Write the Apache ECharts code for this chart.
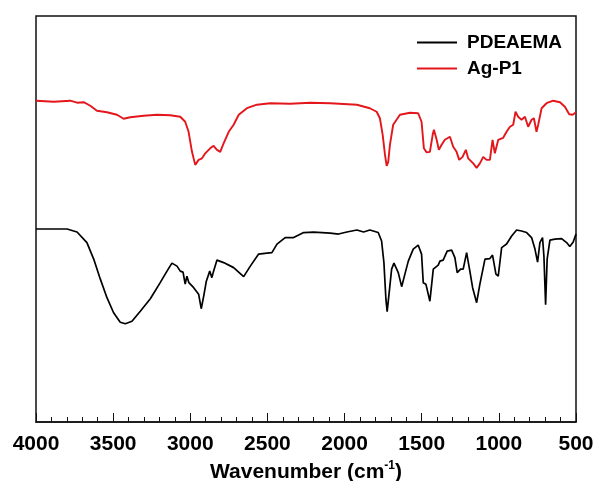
<!DOCTYPE html>
<html>
<head>
<meta charset="utf-8">
<title>FTIR spectra</title>
<script src="https://cdn.jsdelivr.net/npm/echarts@6/dist/echarts.min.js"></script>
<style>
  html, body { margin: 0; padding: 0; background: #ffffff; }
  #chart { width: 597px; height: 481px; }
</style>
</head>
<body>
<div id="chart"></div>
<script>
// Series names
var seriesNames = ['PDEAEMA', 'Ag-P1'];

// Wavenumber axis ticks (cm-1), drawn high to low
var xTicks = [4000, 3500, 3000, 2500, 2000, 1500, 1000, 500];

// PDEAEMA spectrum: wavenumber (cm-1) and transmittance (a.u., offset)
var pdeaemaWn = [4000, 3799, 3734, 3670, 3626, 3583, 3540, 3497, 3454, 3421, 3378, 3324, 3259, 3195, 3151, 3119, 3086, 3065, 3047, 3033, 3022, 3009, 2978, 2946, 2929, 2913, 2896, 2874, 2860, 2849, 2827, 2784, 2719, 2654, 2611, 2557, 2503, 2471, 2438, 2385, 2330, 2265, 2200, 2093, 2039, 1985, 1920, 1877, 1836, 1782, 1760, 1745, 1732, 1724, 1711, 1695, 1680, 1652, 1630, 1609, 1587, 1555, 1523, 1501, 1490, 1473, 1447, 1425, 1393, 1382, 1361, 1335, 1306, 1285, 1270, 1248, 1231, 1209, 1188, 1170, 1144, 1123, 1090, 1058, 1041, 1019, 1004, 982, 950, 917, 885, 853, 820, 788, 766, 749, 734, 717, 708, 697, 687, 669, 637, 593, 561, 540, 518, 500];
var pdeaemaT = [38.5, 38.5, 37.9, 35.8, 32.5, 28.5, 24.8, 21.8, 19.9, 19.6, 20.1, 22.1, 24.6, 27.8, 30.1, 31.7, 31.1, 30.1, 29.9, 27.5, 29.1, 27.8, 26.8, 25.5, 22.6, 25.1, 28.1, 30.1, 28.8, 30.1, 32.3, 31.8, 30.8, 29.0, 31.1, 33.5, 33.7, 33.8, 35.5, 36.8, 36.8, 37.8, 37.9, 37.7, 37.5, 37.9, 38.3, 37.9, 38.3, 37.8, 36.1, 31.8, 24.5, 22.0, 25.8, 30.5, 31.7, 29.8, 27.0, 29.5, 32.1, 34.5, 35.3, 33.5, 27.8, 27.5, 24.1, 30.5, 31.3, 32.1, 32.3, 34.1, 34.3, 32.8, 29.8, 30.5, 30.5, 33.8, 30.1, 26.8, 23.8, 27.5, 32.5, 32.6, 33.3, 29.5, 29.1, 34.8, 35.5, 37.1, 38.3, 38.1, 37.8, 36.8, 34.5, 31.9, 35.8, 36.8, 33.1, 23.4, 32.5, 36.3, 36.5, 36.6, 35.8, 35.0, 35.9, 37.5];

// Ag-P1 spectrum: wavenumber (cm-1) and transmittance (a.u., offset)
var agP1Wn = [4000, 3885, 3778, 3734, 3691, 3648, 3605, 3540, 3475, 3432, 3389, 3302, 3216, 3130, 3065, 3033, 3011, 2989, 2968, 2946, 2924, 2903, 2871, 2849, 2827, 2806, 2784, 2751, 2719, 2686, 2633, 2568, 2482, 2352, 2222, 2093, 1920, 1836, 1792, 1771, 1753, 1738, 1727, 1717, 1706, 1685, 1641, 1576, 1523, 1501, 1486, 1468, 1447, 1429, 1421, 1403, 1389, 1371, 1350, 1317, 1296, 1274, 1257, 1235, 1214, 1199, 1166, 1144, 1123, 1101, 1080, 1058, 1041, 1026, 1004, 972, 950, 928, 907, 892, 875, 853, 831, 810, 788, 773, 756, 745, 723, 691, 648, 604, 572, 544, 522, 500];
var agP1T = [64.1, 63.9, 64.1, 63.7, 63.8, 63.1, 62.1, 61.8, 61.3, 60.5, 60.8, 61.1, 61.3, 61.2, 60.9, 59.9, 57.9, 53.9, 51.3, 52.3, 52.6, 53.6, 54.6, 55.1, 54.3, 53.9, 55.6, 57.9, 59.3, 61.3, 62.6, 63.3, 63.6, 63.5, 63.7, 63.6, 63.3, 62.6, 61.9, 60.6, 57.3, 53.3, 51.1, 51.9, 55.3, 59.3, 61.3, 61.7, 61.6, 59.9, 54.6, 53.8, 53.9, 57.3, 58.3, 56.3, 54.3, 55.3, 56.3, 56.9, 54.9, 53.9, 52.3, 52.9, 54.3, 52.6, 51.6, 50.7, 51.6, 52.9, 52.3, 52.3, 56.3, 53.6, 56.3, 56.7, 57.9, 58.9, 59.3, 61.9, 60.9, 60.3, 60.9, 58.9, 60.3, 60.6, 57.9, 59.3, 62.6, 63.6, 64.1, 63.8, 62.9, 61.4, 61.3, 61.8];

function pairs(xs, ys) {
  return xs.map(function (x, i) { return [x, ys[i]]; });
}

var font = '"Liberation Sans", Arial, sans-serif';
var chart = echarts.init(document.getElementById('chart'), null, { renderer: 'canvas' });

chart.setOption({
  backgroundColor: '#ffffff',
  animation: false,
  grid: {
    left: 36, right: 21, top: 16, bottom: 59,
    outerBoundsMode: 'none',
    containLabel: false,
    show: true, borderColor: '#111111', borderWidth: 1.5, backgroundColor: 'transparent'
  },
  legend: {
    data: seriesNames,
    orient: 'vertical',
    left: 417,
    top: 33,
    padding: 0,
    icon: 'rect',
    itemWidth: 40,
    itemHeight: 2,
    itemGap: 7,
    textStyle: { fontFamily: font, fontWeight: 'bold', fontSize: 19, color: '#000000', padding: [0, 0, 0, 5] }
  },
  xAxis: {
    type: 'value',
    inverse: true,
    min: xTicks[xTicks.length - 1],
    max: xTicks[0],
    interval: 500,
    name: 'Wavenumber (cm{sup|-1})',
    nameLocation: 'middle',
    nameGap: 35,
    nameTextStyle: {
      fontFamily: font, fontWeight: 'bold', fontSize: 21, color: '#000000', lineHeight: 24,
      rich: { sup: { fontFamily: font, fontWeight: 'bold', fontSize: 12, color: '#000000', verticalAlign: 'top', lineHeight: 12 } }
    },
    axisLine: { show: true, onZero: false, lineStyle: { color: '#111111', width: 1.5 } },
    axisTick: { show: true, inside: true, length: 9, lineStyle: { color: '#111111', width: 1 } },
    minorTick: { show: true, splitNumber: 5, length: 5, lineStyle: { color: '#111111', width: 1 } },
    axisLabel: {
      show: true, margin: 12, fontFamily: font, fontWeight: 'bold', fontSize: 21, color: '#000000',
      showMinLabel: true, showMaxLabel: true,
      formatter: function (v) { return String(v); }
    },
    splitLine: { show: false },
    minorSplitLine: { show: false }
  },
  yAxis: {
    type: 'value',
    min: 0,
    max: 81,
    axisLine: { show: false },
    axisTick: { show: false },
    axisLabel: { show: false },
    splitLine: { show: false }
  },
  series: [
    {
      name: seriesNames[0],
      type: 'line',
      data: pairs(pdeaemaWn, pdeaemaT),
      symbol: 'none',
      smooth: false,
      lineStyle: { color: '#000000', width: 1.7 },
      itemStyle: { color: '#000000' },
      clip: true
    },
    {
      name: seriesNames[1],
      type: 'line',
      data: pairs(agP1Wn, agP1T),
      symbol: 'none',
      smooth: false,
      lineStyle: { color: '#e3161b', width: 1.9 },
      itemStyle: { color: '#e3161b' },
      clip: true
    }
  ]
});
</script>
</body>
</html>
